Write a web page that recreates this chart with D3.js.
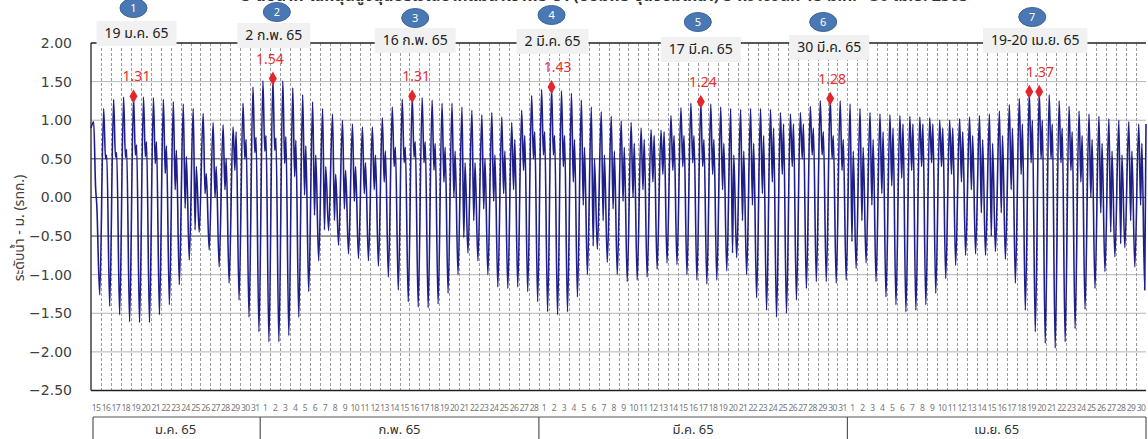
<!DOCTYPE html>
<html>
<head>
<meta charset="utf-8">
<script src="https://cdn.jsdelivr.net/npm/d3@7"></script>
<style>
  body { margin: 0; background: #fff; }
  svg { display: block; font-family: Tahoma, "Noto Sans Thai", Loma, Garuda, "DejaVu Sans", sans-serif; }
</style>
</head>
<body>
<div id="chart"></div>
<script>
// tide level chart, 15 Jan - 30 Apr 2565

var chartW = 1148, chartH = 439;
var margin = {top: 43, right: 2, bottom: 48.5, left: 91},
    width = chartW - margin.left - margin.right,
    height = chartH - margin.top - margin.bottom;

// ---- data ----
var months = ["ม.ค. 65", "ก.พ. 65", "มี.ค. 65", "เม.ย. 65"];
var monthFirstDay = [15, 1, 1, 1];
var monthLastDay = [31, 28, 31, 30];

var yTicks = [2.0, 1.5, 1.0, 0.5, 0.0, -0.5, -1.0, -1.5, -2.0, -2.5];

// hour of day of the four turning points used for each day
var turnHour = [6.5, 11, 14, 21];

var startLevel = 0.90, endLevel = 0.95;

// main high of each day
var hiLevel = [
  0.98, 1.15, 1.27, 1.30, 1.31, 1.30, 1.29, 1.27, 1.24, 1.21, 1.15, 1.09, 0.97, 0.94, 0.91, 1.22, 1.43,
  1.51, 1.54, 1.51, 1.42, 1.33, 1.24, 1.15, 1.08, 1.00, 0.95, 0.91, 0.91, 1.03, 1.17, 1.27, 1.31,
  1.29, 1.26, 1.22, 1.22, 1.17, 1.13, 1.07, 1.10, 1.04, 0.97, 1.13, 1.32,
  1.40, 1.43, 1.38, 1.35, 1.26, 1.17, 1.11, 1.05, 0.99, 0.97, 0.90, 0.88, 0.87, 1.06, 1.16, 1.22,
  1.24, 1.21, 1.17, 1.15, 1.14, 1.15, 1.15, 1.14, 1.10, 1.08, 1.10, 1.18, 1.25, 1.28, 1.25,
  1.21, 1.15, 1.10, 1.08, 1.07, 1.06, 1.05, 1.04, 1.03, 1.00, 1.00, 1.02, 1.04, 1.06, 1.08,
  1.12, 1.20, 1.28, 1.37, 1.37, 1.33, 1.25, 1.18, 1.12, 1.08, 1.05, 1.02, 1.00, 0.98, 0.95
];
// secondary dip after the main high
var dipLevel = [
  0.14, 0.50, 0.52, 0.52, 0.55, 0.53, 0.44, 0.31, 0.10, -0.14, -0.42, 0.05, 0.00, 0.10, 0.35, 0.50, 0.58,
  0.60, 0.61, 0.44, 0.27, 0.03, -0.23, -0.42, -0.30, -0.15, -0.05, 0.05, 0.10, 0.20, 0.40, 0.45, 0.52,
  0.45, 0.35, 0.20, 0.00, -0.52, -0.30, -0.15, -0.05, 0.05, 0.10, 0.35, 0.50,
  0.55, 0.55, 0.40, 0.20, -0.10, -0.63, -0.30, -0.15, -0.05, 0.00, 0.10, 0.20, 0.30, 0.35, 0.40, 0.45,
  0.40, 0.30, 0.10, -0.72, -0.30, -0.10, 0.05, 0.20, 0.30, 0.40, 0.50, 0.55, 0.55, 0.50, 0.35,
  -0.57, -0.30, -0.10, 0.05, 0.15, 0.25, 0.35, 0.40, 0.45, 0.40, 0.30, 0.20, 0.10, -0.20, -0.50,
  -0.20, 0.10, 0.30, 0.45, 0.50, 0.50, 0.45, 0.35, 0.20, 0.00, -0.20, -0.45, -0.60, -0.30, -0.10
];
// secondary bump before the main low
var bumpLevel = [
  -0.10, 0.55, 0.58, 0.62, 0.68, 0.72, 0.72, 0.67, 0.61, 0.53, 0.40, 0.31, 0.40, 0.50, 0.85, 0.75, 0.78,
  0.80, 0.77, 0.79, 0.74, 0.67, 0.55, 0.40, 0.30, 0.35, 0.40, 0.45, 0.55, 0.60, 0.65, 0.65, 0.72,
  0.72, 0.70, 0.65, 0.60, 0.45, 0.45, 0.50, 0.55, 0.60, 0.75, 0.80, 0.85,
  0.85, 0.80, 0.80, 0.75, 0.65, 0.50, 0.55, 0.60, 0.65, 0.70, 0.75, 0.80, 0.85, 0.80, 0.80, 0.80,
  0.75, 0.75, 0.70, 0.55, 0.60, 0.70, 0.80, 0.90, 0.95, 0.95, 0.95, 0.90, 0.85, 0.80, 0.75,
  0.60, 0.65, 0.75, 0.85, 0.90, 0.95, 0.95, 0.95, 0.95, 0.90, 0.90, 0.85, 0.80, 0.75, 0.70,
  0.80, 0.90, 0.95, 1.00, 1.00, 0.95, 0.90, 0.85, 0.80, 0.75, 0.70, 0.60, 0.55, 0.60, 0.70
];
// main low of each day
var loLevel = [
  -1.26, -1.41, -1.52, -1.61, -1.62, -1.62, -1.52, -1.39, -1.13, -0.81, -0.45, -0.68, -0.90, -1.11, -1.33, -1.55, -1.74,
  -1.87, -1.87, -1.79, -1.55, -1.22, -0.82, -0.43, -0.62, -0.73, -0.79, -0.82, -0.89, -1.03, -1.20, -1.35, -1.42,
  -1.43, -1.38, -1.24, -1.00, -0.72, -0.82, -1.00, -1.16, -1.18, -1.16, -1.22, -1.35,
  -1.48, -1.52, -1.48, -1.29, -1.00, -0.67, -0.84, -1.00, -1.09, -1.07, -1.03, -0.93, -0.85, -0.87, -1.00, -1.07,
  -1.12, -1.07, -0.95, -0.78, -1.00, -1.30, -1.46, -1.55, -1.50, -1.33, -1.18, -1.09, -1.09, -1.11, -1.07,
  -0.92, -0.85, -1.09, -1.29, -1.39, -1.48, -1.46, -1.39, -1.24, -1.05, -0.88, -0.75, -0.73, -0.75, -0.70,
  -0.80, -1.11, -1.46, -1.74, -1.89, -1.95, -1.87, -1.70, -1.45, -1.18, -0.96, -0.77, -0.65, -0.90, -1.20
];

// highest-tide notes
var peakNo = ["1", "2", "3", "4", "5", "6", "7"];
var peakDate = ["19 ม.ค. 65", "2 ก.พ. 65", "16 ก.พ. 65", "2 มี.ค. 65", "17 มี.ค. 65", "30 มี.ค. 65", "19-20 เม.ย. 65"];
var peakValue = ["1.31", "1.54", "1.31", "1.43", "1.24", "1.28", "1.37"];
var peakDays = [[4], [18], [32], [46], [61], [74], [94, 95]];

var titleText = "ระดับน้ำทะเลหนุนสูงสุดบริเวณปากแม่น้ำเจ้าพระยา (ป้อมพระจุลจอมเกล้า) ระหว่างวันที่ 15 ม.ค. - 30 เม.ย. 2565";

// ---- layout of the notes (pixels) ----
var noteBoxDx = [3, 1, 3, 1, 0, -1, 1];
var noteBoxY  = [33, 35, 40, 41, 49, 47, 40];
var noteCircDx = [0, 4, 3, 0, -3, -7, -2];
var noteCircY  = [8, 12, 18, 15, 22, 22, 17];
var noteValDx  = [3, -3, 4, 6, 2, 2, 6];

// ---- build ----
var dayLabels = [], monthSpan = [];
months.forEach(function(m, k) {
  var start = dayLabels.length;
  d3.range(monthFirstDay[k], monthLastDay[k] + 1).forEach(function(d) { dayLabels.push(d); });
  monthSpan.push({name: m, start: start, end: dayLabels.length});
});
var nDays = dayLabels.length;

var points = [{t: 0, v: startLevel}];
hiLevel.forEach(function(h, i) {
  points.push({t: i + turnHour[0] / 24, v: h});
  points.push({t: i + turnHour[1] / 24, v: dipLevel[i]});
  points.push({t: i + turnHour[2] / 24, v: bumpLevel[i]});
  points.push({t: i + turnHour[3] / 24, v: loLevel[i]});
});
points.push({t: nDays, v: endLevel});

var x = d3.scaleLinear().domain([0, nDays]).range([0, width]);
var y = d3.scaleLinear().domain([-2.5, 2]).range([height, 0]);

var svg = d3.select("#chart").append("svg")
    .attr("width", chartW)
    .attr("height", chartH);

// title (mostly above the picture edge)
svg.append("text")
    .attr("x", 605).attr("y", 1)
    .attr("text-anchor", "middle")
    .attr("font-size", 16).attr("font-weight", "bold")
    .attr("fill", "#333")
    .text(titleText);

var focus = svg.append("g")
    .attr("transform", "translate(" + margin.left + "," + margin.top + ")");

// horizontal grid
focus.append("g")
  .selectAll("line")
  .data(yTicks.slice(1, -1))
  .enter().append("line")
    .attr("x1", 0).attr("x2", width)
    .attr("y1", function(d) { return y(d); })
    .attr("y2", function(d) { return y(d); })
    .attr("stroke", function(d) { return Math.abs(d) <= 0.5 ? "#3a3a3a" : "#b5b5b5"; })
    .attr("stroke-width", 1);

// day grid (dashed)
focus.append("g")
  .selectAll("line")
  .data(d3.range(1, nDays))
  .enter().append("line")
    .attr("x1", function(d) { return Math.round(x(d)) + 0.5; })
    .attr("x2", function(d) { return Math.round(x(d)) + 0.5; })
    .attr("y1", 0).attr("y2", height)
    .attr("stroke", "#9b9b9b")
    .attr("stroke-dasharray", "3,2")
    .attr("stroke-width", 1);

// y axis
var yAxis = d3.axisLeft(y).tickValues(yTicks).tickSize(0).tickPadding(19)
    .tickFormat(d3.format(".2f"));
var gy = focus.append("g").attr("class", "y axis").call(yAxis);
gy.select(".domain").remove();
gy.selectAll("text").attr("font-size", 14).attr("fill", "#404040")
    .attr("font-family", "Tahoma, 'DejaVu Sans', sans-serif");

// frame
focus.append("line").attr("x1", 0).attr("x2", 0).attr("y1", 0).attr("y2", height)
    .attr("stroke", "#222").attr("stroke-width", 1.3);
focus.append("line").attr("x1", 0).attr("x2", width).attr("y1", height).attr("y2", height)
    .attr("stroke", "#222").attr("stroke-width", 1.3);
focus.append("line").attr("x1", 0).attr("x2", width).attr("y1", 0).attr("y2", 0)
    .attr("stroke", "#222").attr("stroke-width", 1.3);

// tide line
var line = d3.line()
    .curve(d3.curveMonotoneX)
    .x(function(d) { return x(d.t); })
    .y(function(d) { return y(d.v); });

focus.append("path")
    .datum(points)
    .attr("fill", "none")
    .attr("stroke", "#1f1f8a")
    .attr("stroke-width", 1.6)
    .attr("stroke-linejoin", "round")
    .attr("d", line);

// day labels
focus.append("g")
  .selectAll("text")
  .data(dayLabels)
  .enter().append("text")
    .attr("x", function(d, i) { return x(i + 0.5); })
    .attr("y", height + 20)
    .attr("text-anchor", "middle")
    .attr("font-size", 8.5)
    .attr("letter-spacing", -0.6)
    .attr("fill", "#777")
    .text(function(d) { return d; });

// month table
var table = focus.append("g").attr("transform", "translate(0," + (height + 26.5) + ")");
table.append("line").attr("x1", 2).attr("x2", width).attr("y1", 0).attr("y2", 0)
    .attr("stroke", "#555").attr("stroke-width", 1.2);
table.selectAll(".sep")
  .data([0].concat(monthSpan.map(function(m) { return m.end; })))
  .enter().append("line")
    .attr("x1", function(d) { return d === 0 ? 2 : x(d); })
    .attr("x2", function(d) { return d === 0 ? 2 : x(d); })
    .attr("y1", 0).attr("y2", 30)
    .attr("stroke", "#555").attr("stroke-width", 1.2);
table.selectAll(".mlab")
  .data(monthSpan)
  .enter().append("text")
    .attr("x", function(d) { return x((d.start + d.end) / 2); })
    .attr("y", 17)
    .attr("text-anchor", "middle")
    .attr("font-size", 13)
    .attr("fill", "#333")
    .text(function(d) { return d.name; });

// peak markers and notes
var notes = svg.append("g");
peakDays.forEach(function(ds, k) {
  var px = ds.map(function(d) { return margin.left + x(d + turnHour[0] / 24); });
  var py = margin.top + y(hiLevel[ds[0]]);
  var cx = d3.mean(px);

  px.forEach(function(p) {
    notes.append("path")
        .attr("d", d3.symbol().type(d3.symbolDiamond).size(55))
        .attr("transform", "translate(" + p + "," + py + ")")
        .attr("fill", "#e3262b");
  });

  notes.append("text")
      .attr("x", cx + noteValDx[k]).attr("y", py - 15)
      .attr("text-anchor", "middle")
      .attr("font-size", 14)
      .attr("fill", "#e8302e")
      .text(peakValue[k]);

  var t = notes.append("text")
      .attr("x", cx + noteBoxDx[k]).attr("y", noteBoxY[k] + 5)
      .attr("text-anchor", "middle")
      .attr("font-size", 14)
      .attr("fill", "#222")
      .text(peakDate[k]);
  var bw = t.node().getComputedTextLength() + 16;
  notes.insert("rect", function() { return t.node(); })
      .attr("x", cx + noteBoxDx[k] - bw / 2).attr("y", noteBoxY[k] - 12)
      .attr("width", bw).attr("height", 25)
      .attr("fill", "#f1f1f1");

  notes.append("ellipse")
      .attr("cx", cx + noteCircDx[k]).attr("cy", noteCircY[k])
      .attr("rx", 13.5).attr("ry", 9.5)
      .attr("fill", "#4a78b4")
      .attr("stroke", "#3a6294").attr("stroke-width", 1);
  notes.append("text")
      .attr("x", cx + noteCircDx[k]).attr("y", noteCircY[k] + 4)
      .attr("text-anchor", "middle")
      .attr("font-size", 11)
      .attr("fill", "#fff")
      .text(peakNo[k]);
});

// y axis title
svg.append("text")
    .attr("transform", "translate(24," + 228 + ") rotate(-90)")
    .attr("text-anchor", "middle")
    .attr("font-size", 14)
    .attr("fill", "#404040")
    .text("ระดับน้ำ - ม. (รทก.)");
</script>
</body>
</html>
